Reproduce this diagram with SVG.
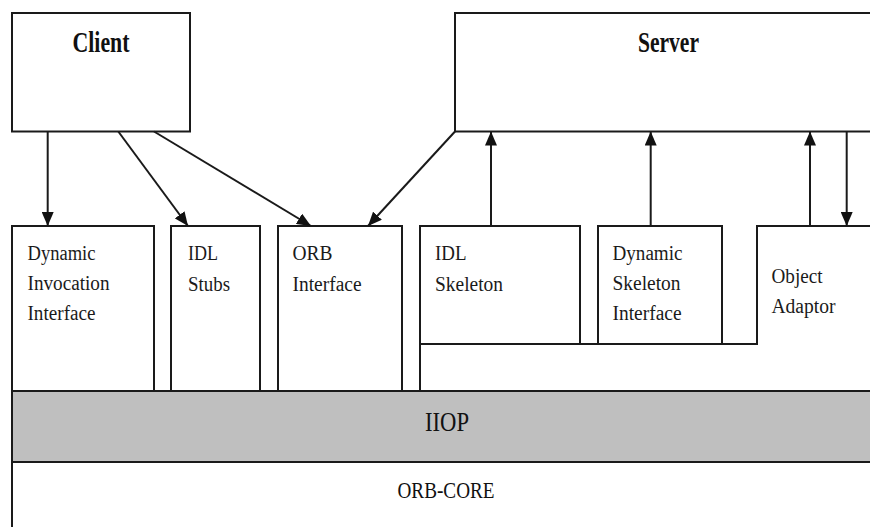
<svg xmlns="http://www.w3.org/2000/svg" width="870" height="527" viewBox="0 0 870 527">
  <style>
    .box { fill: #ffffff; stroke: #1a1a1a; stroke-width: 2; }
    .band { fill: #bfbfbf; stroke: #1a1a1a; stroke-width: 2; }
    .edge { fill: none; stroke: #1a1a1a; stroke-width: 2; }
    text { font-family: "Liberation Serif", "DejaVu Serif", serif; }
    .title { font-weight: bold; font-size: 29px; fill: #111111; }
    .label { font-size: 20px; fill: #1a1a1a; }
    .layer { fill: #111111; }
  </style>
  <defs>
    <marker id="arrow" markerUnits="userSpaceOnUse" markerWidth="14" markerHeight="12" refX="14" refY="6" orient="auto">
      <path d="M0,0 L14,6 L0,12 Z" fill="#111111"/>
    </marker>
  </defs>

  <rect width="870" height="527" fill="#ffffff"/>

  <!-- ORB core layer -->
  <g id="orb-core">
    <rect class="box" x="12" y="462" width="880" height="90"/>
    <text class="layer" x="446" y="498" font-size="24" text-anchor="middle" textLength="97" lengthAdjust="spacingAndGlyphs">ORB-CORE</text>
  </g>

  <!-- IIOP layer -->
  <g id="iiop">
    <rect class="band" x="12" y="391" width="880" height="71"/>
    <text class="layer" x="447" y="430.5" font-size="27" text-anchor="middle" textLength="44" lengthAdjust="spacingAndGlyphs">IIOP</text>
  </g>

  <!-- Client -->
  <g id="client">
    <rect class="box" x="12" y="13" width="178" height="118.5"/>
    <text class="title" x="101" y="51.5" text-anchor="middle" textLength="57" lengthAdjust="spacingAndGlyphs">Client</text>
  </g>

  <!-- Server -->
  <g id="server">
    <rect class="box" x="455" y="13" width="430" height="118.5"/>
    <text class="title" x="668.5" y="51.5" text-anchor="middle" textLength="61" lengthAdjust="spacingAndGlyphs">Server</text>
  </g>

  <!-- Client-side interfaces -->
  <g id="dii">
    <rect class="box" x="12" y="226" width="142" height="165"/>
    <text class="label" x="27.5" y="260" textLength="68" lengthAdjust="spacingAndGlyphs">Dynamic</text>
    <text class="label" x="27.5" y="290" textLength="82" lengthAdjust="spacingAndGlyphs">Invocation</text>
    <text class="label" x="27.5" y="320" textLength="68" lengthAdjust="spacingAndGlyphs">Interface</text>
  </g>

  <g id="idl-stubs">
    <rect class="box" x="171" y="226" width="89" height="165"/>
    <text class="label" x="188" y="260" textLength="30" lengthAdjust="spacingAndGlyphs">IDL</text>
    <text class="label" x="188" y="290.5" textLength="42" lengthAdjust="spacingAndGlyphs">Stubs</text>
  </g>

  <g id="orb-interface">
    <rect class="box" x="278" y="226" width="124" height="165"/>
    <text class="label" x="292.5" y="260" textLength="40" lengthAdjust="spacingAndGlyphs">ORB</text>
    <text class="label" x="292.5" y="290.5" textLength="69" lengthAdjust="spacingAndGlyphs">Interface</text>
  </g>

  <!-- Server-side: object adaptor wraps the skeleton layer -->
  <g id="object-adaptor">
    <path class="box" d="M420,391 V344 H757 V226 H885 V391 Z"/>
    <text class="label" x="771.5" y="282.5" textLength="51" lengthAdjust="spacingAndGlyphs">Object</text>
    <text class="label" x="771.5" y="312.5" textLength="64" lengthAdjust="spacingAndGlyphs">Adaptor</text>
  </g>

  <g id="idl-skeleton">
    <rect class="box" x="420" y="226" width="160" height="118"/>
    <text class="label" x="435" y="260" textLength="31.5" lengthAdjust="spacingAndGlyphs">IDL</text>
    <text class="label" x="435" y="290.5" textLength="68" lengthAdjust="spacingAndGlyphs">Skeleton</text>
  </g>

  <g id="dsi">
    <rect class="box" x="598" y="226" width="124" height="118"/>
    <text class="label" x="612.5" y="260" textLength="70" lengthAdjust="spacingAndGlyphs">Dynamic</text>
    <text class="label" x="612.5" y="290" textLength="68" lengthAdjust="spacingAndGlyphs">Skeleton</text>
    <text class="label" x="612.5" y="320" textLength="69" lengthAdjust="spacingAndGlyphs">Interface</text>
  </g>

  <!-- Connectors -->
  <g id="connectors">
    <line class="edge" x1="47.7" y1="131.5" x2="47.7" y2="226" marker-end="url(#arrow)"/>
    <line class="edge" x1="118.3" y1="131.5" x2="188" y2="226" marker-end="url(#arrow)"/>
    <line class="edge" x1="154" y1="131.5" x2="311" y2="226" marker-end="url(#arrow)"/>
    <line class="edge" x1="455" y1="131.5" x2="368" y2="226" marker-end="url(#arrow)"/>
    <line class="edge" x1="491" y1="226" x2="491" y2="131.5" marker-end="url(#arrow)"/>
    <line class="edge" x1="650.7" y1="226" x2="650.7" y2="131.5" marker-end="url(#arrow)"/>
    <line class="edge" x1="810" y1="226" x2="810" y2="131.5" marker-end="url(#arrow)"/>
    <line class="edge" x1="846.7" y1="131.5" x2="846.7" y2="226" marker-end="url(#arrow)"/>
  </g>
</svg>
